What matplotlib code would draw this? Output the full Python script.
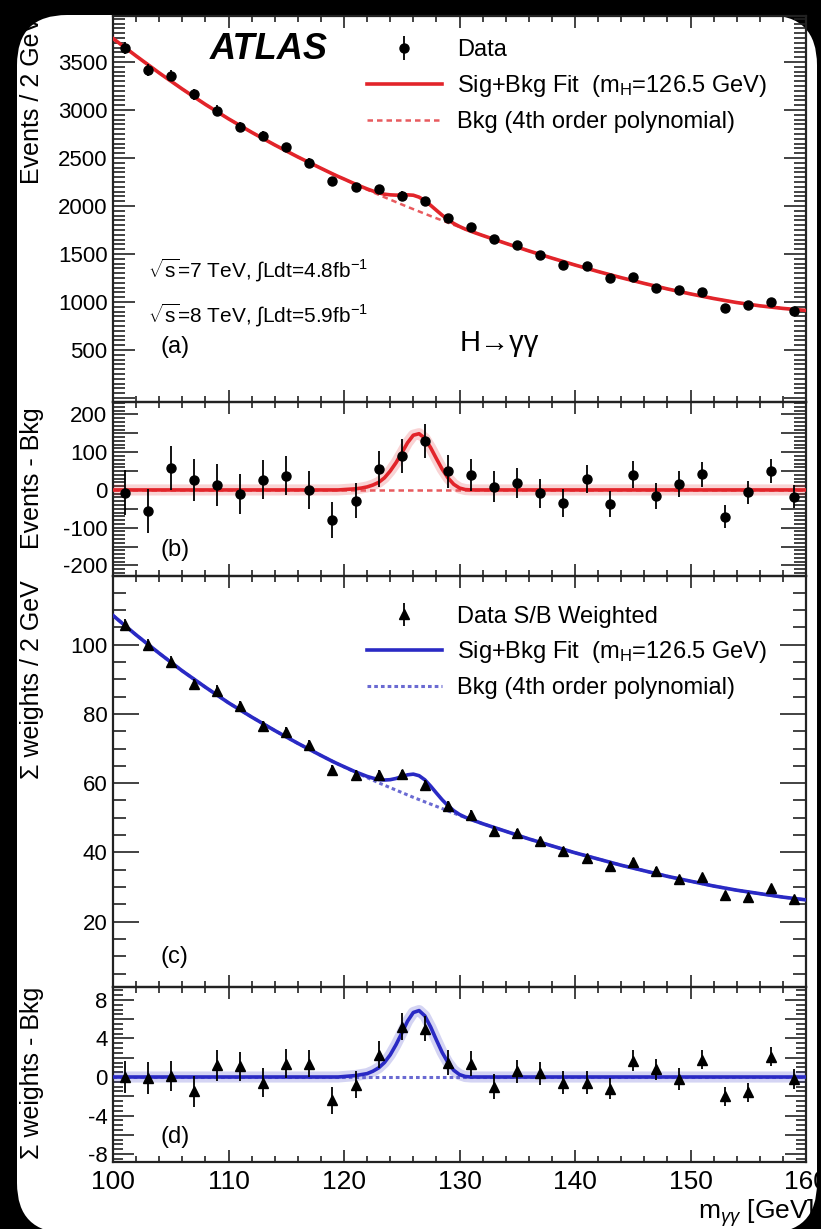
import numpy as np
import matplotlib
matplotlib.use('Agg')
import matplotlib.pyplot as plt
from matplotlib.patches import FancyBboxPatch
from matplotlib.transforms import IdentityTransform
from matplotlib.ticker import MultipleLocator, FuncFormatter

plt.rcParams['font.family'] = ['Liberation Sans', 'DejaVu Sans']
plt.rcParams['mathtext.fontset'] = 'custom'
plt.rcParams['mathtext.rm'] = 'Liberation Sans'
plt.rcParams['mathtext.it'] = 'Liberation Sans:italic'
plt.rcParams['mathtext.bf'] = 'Liberation Sans:bold'

# bin centres (2 GeV bins)
mass = [101, 103, 105, 107, 109, 111, 113, 115, 117, 119,
        121, 123, 125, 127, 129, 131, 133, 135, 137, 139,
        141, 143, 145, 147, 149, 151, 153, 155, 157, 159]

# panel (a) / (b): events
data_a = [3647, 3416, 3358, 3163, 2994, 2825, 2727, 2610, 2451, 2255,
          2196, 2172, 2106, 2049, 1875, 1776, 1660, 1590, 1485, 1386,
          1378, 1247, 1262, 1148, 1125, 1101, 942, 969, 995, 903]
err_a = [60, 58, 58, 56, 55, 53, 52, 51, 50, 47,
         47, 47, 46, 45, 43, 42, 41, 40, 39, 37,
         37, 35, 36, 34, 34, 33, 31, 31, 32, 30]
resid_b = [-7, -56, 58, 27, 13, -11, 27, 38, 0, -80,
           -28, 55, 90, 130, 49, 40, 9, 19, -9, -35,
           28, -37, 40, -16, 16, 42, -71, -6, 50, -18]

# panel (c) / (d): S/B weighted
data_c = [105.6, 100.0, 95.0, 88.5, 86.6, 82.2, 76.5, 74.7, 71.1, 63.9,
          62.3, 62.4, 62.5, 59.6, 53.5, 50.9, 46.2, 45.6, 43.3, 40.3,
          38.4, 36.0, 37.2, 34.7, 32.2, 32.8, 27.7, 27.0, 29.7, 26.5]
err_c = [1.7, 1.7, 1.6, 1.6, 1.6, 1.5, 1.5, 1.5, 1.4, 1.4,
         1.4, 1.4, 1.4, 1.3, 1.3, 1.3, 1.3, 1.2, 1.2, 1.2,
         1.2, 1.1, 1.1, 1.1, 1.1, 1.0, 1.0, 1.0, 1.0, 1.0]
resid_d = [0.0, -0.1, 0.1, -1.5, 1.2, 1.1, -0.6, 1.4, 1.4, -2.4,
           -0.8, 2.3, 5.2, 5.0, 1.5, 1.4, -1.0, 0.6, 0.4, -0.6,
           -0.6, -1.2, 1.7, 0.8, -0.2, 1.8, -2.0, -1.6, 2.1, -0.2]

# fit curves
fit_x = [100, 102, 104, 106, 108, 110, 112, 114, 116, 118,
         119, 119.5, 120, 120.5, 121, 121.5, 122, 122.5, 123, 123.5,
         124, 124.5, 125, 125.5, 126, 126.5, 127, 127.5, 128, 128.5,
         129, 129.5, 130, 130.5, 131, 131.5, 132,
         134, 136, 138, 140, 142, 144, 146, 148, 150, 152, 154, 156, 158, 160]
bkg_a = [3745, 3563, 3386, 3218, 3058, 2908, 2768, 2636, 2511, 2393,
         2335, 2307, 2280, 2252, 2224, 2197, 2170, 2143, 2117, 2091,
         2066, 2041, 2016, 1991, 1967, 1943, 1919, 1895, 1872, 1849,
         1826, 1803, 1781, 1758, 1736, 1714, 1693,
         1611, 1532, 1457, 1385, 1317, 1253, 1193, 1136, 1084, 1036, 994, 960, 933, 912]
sig_b = [0, 0, 0, 0, 0, 0, 0, 0, 0, 0,
         0, 0, 1, 2, 3, 5, 8, 13, 20, 32,
         50, 72, 98, 125, 145, 149, 137, 112, 83, 55,
         32, 15, 5, 1, 0, 0, 0,
         0, 0, 0, 0, 0, 0, 0, 0, 0, 0, 0, 0, 0, 0]
bkg_c = [108.4, 102.8, 97.5, 92.4, 87.7, 83.2, 79.1, 75.2, 71.5, 68.0,
         66.3, 65.5, 64.7, 63.9, 63.1, 62.35, 61.6, 60.85, 60.1, 59.4,
         58.7, 58.0, 57.3, 56.6, 55.9, 55.25, 54.6, 53.95, 53.3, 52.65,
         52.0, 51.35, 50.7, 50.1, 49.5, 48.9, 48.3,
         46.1, 43.9, 41.9, 39.9, 38.1, 36.3, 34.7, 33.1, 31.7, 30.3, 29.1, 28.1, 27.1, 26.3]
sig_d = [0, 0, 0, 0, 0, 0, 0, 0, 0, 0,
         0, 0, 0.05, 0.1, 0.15, 0.25, 0.35, 0.6, 0.95, 1.5,
         2.3, 3.35, 4.55, 5.8, 6.7, 6.9, 6.35, 5.2, 3.85, 2.55,
         1.5, 0.7, 0.25, 0.05, 0, 0, 0,
         0, 0, 0, 0, 0, 0, 0, 0, 0, 0, 0, 0, 0, 0]
zero_line = [0] * len(fit_x)

red = '#e2242a'
red_light = '#e85a5e'
blue = '#2a2ac4'
blue_light = '#6a6ad2'
axc = '#222222'

W, H = 821, 1229
fig = plt.figure(figsize=(W / 100, H / 100), dpi=100, facecolor='black')

# white rounded page on the black background
page = FancyBboxPatch((17, -4), 800, 1218, boxstyle='round,pad=0,rounding_size=50',
                      transform=IdentityTransform(), fc='white', ec='none', zorder=-10)
fig.add_artist(page)


def rect(top, bottom, left=113, right=806):
    return [left / W, 1 - bottom / H, (right - left) / W, (bottom - top) / H]


ax_a = fig.add_axes(rect(16, 402))
ax_b = fig.add_axes(rect(402, 576))
ax_c = fig.add_axes(rect(576, 987))
ax_d = fig.add_axes(rect(987, 1162))


def label_fmt(step, skip_zero=False):
    def f(v, pos):
        k = v / step
        if abs(k - round(k)) > 1e-6:
            return ''
        if skip_zero and abs(v) < 1e-9:
            return ''
        return '%d' % round(v)
    return FuncFormatter(f)


def style(ax, ymaj, ymin_, lab_step, ylong, yshort, skip_zero=False, xlabels=False):
    ax.set_facecolor('none')
    ax.set_xlim(100, 160)
    ax.xaxis.set_major_locator(MultipleLocator(10))
    ax.xaxis.set_minor_locator(MultipleLocator(2))
    ax.yaxis.set_major_locator(MultipleLocator(ymaj))
    ax.yaxis.set_minor_locator(MultipleLocator(ymin_))
    ax.yaxis.set_major_formatter(label_fmt(lab_step, skip_zero))
    for s in ax.spines.values():
        s.set_linewidth(1.6)
        s.set_color(axc)
    ax.tick_params(which='both', direction='in', top=True, right=True, color=axc, width=1.2)
    ax.tick_params(axis='x', which='major', length=8.5, labelsize=19, pad=6)
    ax.tick_params(axis='x', which='minor', length=4)
    ax.tick_params(axis='y', which='major', length=ylong, labelsize=16, pad=4)
    ax.tick_params(axis='y', which='minor', length=yshort)
    ax.tick_params(axis='x', labelbottom=xlabels)


style(ax_a, 500, 50, 500, 16, 8.5, skip_zero=True)
style(ax_b, 50, 10, 100, 18, 8.5)
style(ax_c, 20, 5, 20, 19, 9.5)
style(ax_d, 2, 0.5, 4, 15, 7.5, xlabels=True)

ax_a.set_ylim(-42, 3979)
ax_b.set_ylim(-228, 233)
ax_c.set_ylim(1.15, 119.8)
ax_d.set_ylim(-8.83, 9.35)

# (a) events with fit
fit_a = np.array(bkg_a) + np.array(sig_b)
ln_fit_a, = ax_a.plot(fit_x, fit_a, color=red, lw=2.6, zorder=3)
ln_bkg_a, = ax_a.plot(fit_x, bkg_a, color=red_light, lw=1.8, ls=(0, (2.2, 1.6)), zorder=2)
eb_a = ax_a.errorbar(mass, data_a, yerr=err_a, fmt='o', color='black', ms=6.5,
                     elinewidth=1.3, capsize=0, zorder=5)

# (b) residuals
ax_b.plot(fit_x, sig_b, color=red, lw=8, alpha=0.2, zorder=2)
ax_b.plot(fit_x, zero_line, color=red_light, lw=1.8, ls=(0, (2.2, 1.6)), zorder=2)
ax_b.plot(fit_x, sig_b, color=red, lw=2.6, zorder=3)
ax_b.errorbar(mass, resid_b, yerr=err_a, fmt='o', color='black', ms=6.5,
              elinewidth=1.3, capsize=0, zorder=5)

# (c) weighted with fit
fit_c = np.array(bkg_c) + np.array(sig_d)
ln_fit_c, = ax_c.plot(fit_x, fit_c, color=blue, lw=2.6, zorder=3)
ln_bkg_c, = ax_c.plot(fit_x, bkg_c, color=blue_light, lw=2.2, ls=(0, (1.2, 1.0)), zorder=2)
eb_c = ax_c.errorbar(mass, data_c, yerr=err_c, fmt='^', color='black', ms=7,
                     elinewidth=1.3, capsize=0, zorder=5)

# (d) weighted residuals
ax_d.plot(fit_x, sig_d, color=blue, lw=8, alpha=0.2, zorder=2)
ax_d.plot(fit_x, zero_line, color=blue_light, lw=2.2, ls=(0, (1.2, 1.0)), zorder=2)
ax_d.plot(fit_x, sig_d, color=blue, lw=2.6, zorder=3)
ax_d.errorbar(mass, resid_d, yerr=err_c, fmt='^', color='black', ms=7,
              elinewidth=1.3, capsize=0, zorder=5)

# axis titles
ax_a.set_ylabel('Events / 2 GeV', fontsize=18, loc='top')
ax_b.set_ylabel('Events - Bkg', fontsize=18, loc='top')
ax_c.set_ylabel('\u03a3 weights / 2 GeV', fontsize=18, loc='top')
ax_d.set_ylabel('\u03a3 weights - Bkg', fontsize=18, loc='top')
ax_a.yaxis.set_label_coords(-0.1, 1.0)
ax_b.yaxis.set_label_coords(-0.1, 0.97)
ax_c.yaxis.set_label_coords(-0.1, 0.99)
ax_d.yaxis.set_label_coords(-0.1, 1.0)
ax_d.set_xlabel(r'm$_{\gamma\gamma}$ [GeV]', fontsize=19, loc='right')
ax_d.xaxis.set_label_coords(1.012, -0.2)

# legends
leg_kw = dict(loc='upper left', frameon=False, fontsize=17, handlelength=3.2,
              handletextpad=0.62, labelspacing=0.5, borderpad=0, borderaxespad=0)
leg_a = ax_a.legend([eb_a, ln_fit_a, ln_bkg_a],
                    ['Data', r'Sig+Bkg Fit  (m$_{\mathrm{H}}$=126.5 GeV)', 'Bkg (4th order polynomial)'],
                    bbox_to_anchor=(0.366, 0.94), **leg_kw)
leg_c = ax_c.legend([eb_c, ln_fit_c, ln_bkg_c],
                    ['Data S/B Weighted', r'Sig+Bkg Fit  (m$_{\mathrm{H}}$=126.5 GeV)', 'Bkg (4th order polynomial)'],
                    bbox_to_anchor=(0.366, 0.928), **leg_kw)

# annotations
ax_a.text(0.14, 0.912, 'ATLAS', transform=ax_a.transAxes, fontsize=26, fontweight='bold',
          fontstyle='italic', va='center', ha='left')
ax_a.text(0.05, 0.342, r'$\sqrt{\mathrm{s}}$=7 TeV, $\int$Ldt=4.8fb$^{\mathrm{-1}}$',
          transform=ax_a.transAxes, fontsize=15, va='center', ha='left')
ax_a.text(0.05, 0.225, r'$\sqrt{\mathrm{s}}$=8 TeV, $\int$Ldt=5.9fb$^{\mathrm{-1}}$',
          transform=ax_a.transAxes, fontsize=15, va='center', ha='left')
ax_a.text(0.5, 0.153, 'H\u2192\u03b3\u03b3', transform=ax_a.transAxes, fontsize=21,
          va='center', ha='left')
ax_a.text(0.068, 0.1425, '(a)', transform=ax_a.transAxes, fontsize=17, va='center', ha='left')
ax_b.text(0.068, 0.149, '(b)', transform=ax_b.transAxes, fontsize=17, va='center', ha='left')
ax_c.text(0.068, 0.073, '(c)', transform=ax_c.transAxes, fontsize=17, va='center', ha='left')
ax_d.text(0.068, 0.143, '(d)', transform=ax_d.transAxes, fontsize=17, va='center', ha='left')

fig.savefig('out.png', dpi=100, facecolor='black')
